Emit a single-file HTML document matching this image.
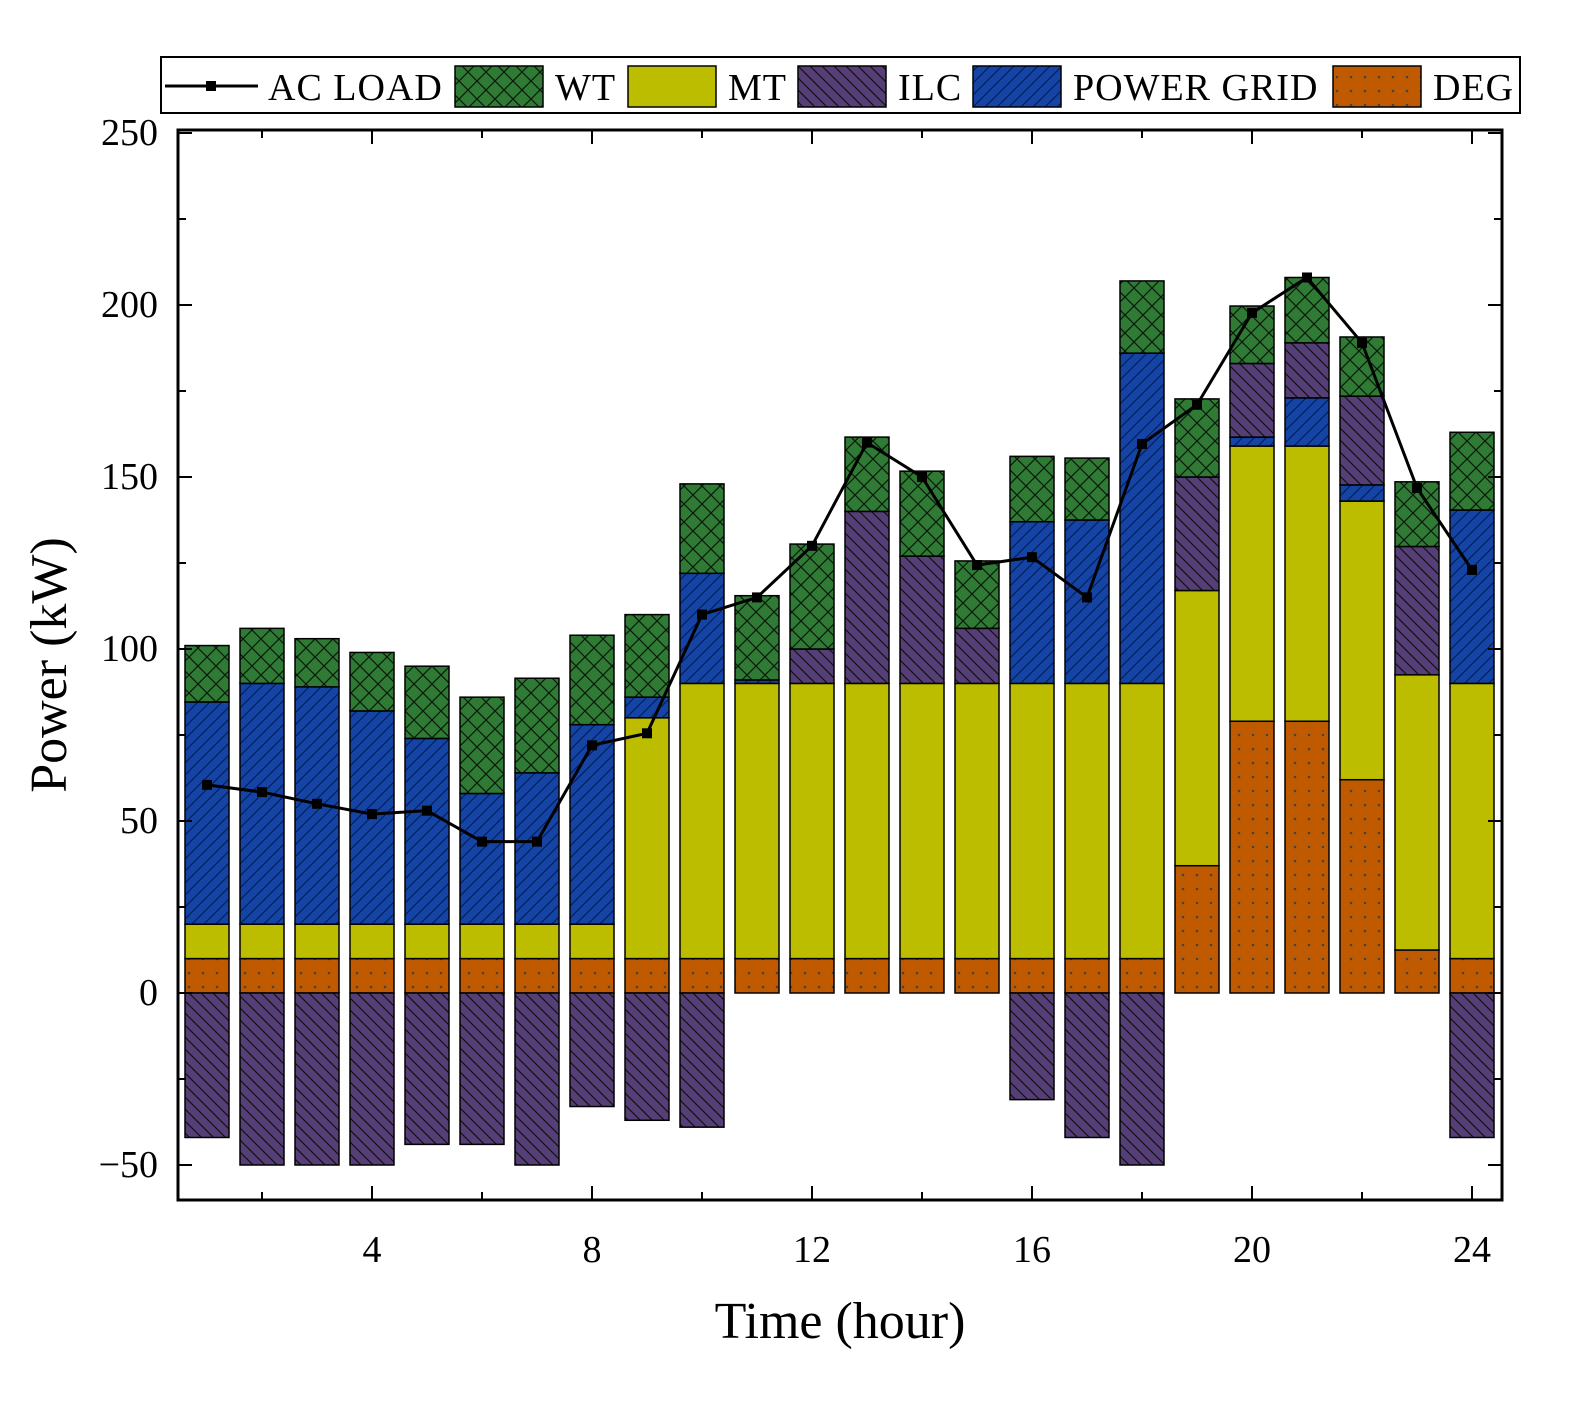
<!DOCTYPE html>
<html><head><meta charset="utf-8"><style>
body{margin:0;background:#fff;}
svg text{font-family:"Liberation Serif","DejaVu Serif",serif;fill:#000;}
</style></head><body>
<svg id="chart" width="1582" height="1400" xmlns="http://www.w3.org/2000/svg">
<defs>
<pattern id="pWT" width="18" height="18" patternUnits="userSpaceOnUse"><rect width="18" height="18" fill="#2f7a34"/><path d="M0,0L18,18M18,0L0,18" stroke="#000" stroke-width="1.2" opacity="0.8"/></pattern>
<pattern id="pMT" width="10" height="10" patternUnits="userSpaceOnUse"><rect width="10" height="10" fill="#bdbd00"/></pattern>
<pattern id="pILC" width="12" height="12" patternUnits="userSpaceOnUse"><rect width="12" height="12" fill="#563f78"/><path d="M0,0L12,12M-6,6L6,18M6,-6L18,6" stroke="#111" stroke-width="1.2"/></pattern>
<pattern id="pGRID" width="12" height="12" patternUnits="userSpaceOnUse"><rect width="12" height="12" fill="#1444a6"/><path d="M0,12L12,0M-6,6L6,-6M6,18L18,6" stroke="#0a1e50" stroke-width="1.2"/></pattern>
<pattern id="pDEG" width="14" height="14" patternUnits="userSpaceOnUse"><rect width="14" height="14" fill="#c05a00"/><circle cx="7" cy="7" r="1.3" fill="#444"/></pattern>
</defs>
<g id="plot"></g>
</svg>
<script>
const hours=[1,2,3,4,5,6,7,8,9,10,11,12,13,14,15,16,17,18,19,20,21,22,23,24];
const deg=[10,10,10,10,10,10,10,10,10,10,10,10,10,10,10,10,10,10,37,79,79,62,12.5,10];
const mt=[10,10,10,10,10,10,10,10,70,80,80,80,80,80,80,80,80,80,80,80,80,81,80,80];
const grid=[64.6,70,69,62,54,38,44,58,6,32,1,0,0,0,0,47,47.5,96,0,2.6,14,4.7,0,50.4];
const ilcPos=[0,0,0,0,0,0,0,0,0,0,0,10,50,37,16,0,0,0,33,21.4,16,25.8,37.3,0];
const wt=[16.4,16,14,17,21,28,27.5,26,24,26,24.5,30.5,21.6,24.7,19.6,19,18,21,22.7,16.7,19,17.2,18.8,22.6];
const ilcNeg=[-42,-50,-50,-50,-44,-44,-50,-33,-37,-39,0,0,0,0,0,-31,-42,-50,0,0,0,0,0,-42];
const load=[60.5,58.4,55,52,53,44,44,72,75.5,110,115,130,160,150,124.4,126.7,115,159.6,171,197.7,208,189,146.8,123];
const xTicks=[4,8,12,16,20,24];
const yTicks=[-50,0,50,100,150,200,250];

const NS="http://www.w3.org/2000/svg";
const X0=178,X1=1502,Y0=130,Y1=1200;
const x=v=>152+55*v;
const y=v=>993-3.44*v;
const g=document.getElementById('plot');
function el(t,a,p){const e=document.createElementNS(NS,t);for(const k in a)e.setAttribute(k,a[k]);(p||g).appendChild(e);return e;}
const BW=44;
const series=[["deg",deg,"pDEG"],["mt",mt,"pMT"],["grid",grid,"pGRID"],["ilc",ilcPos,"pILC"],["wt",wt,"pWT"]];
hours.forEach((h,i)=>{
  let base=0;
  series.forEach(([nm,arr,pat])=>{
    const v=arr[i]; if(v<=0)return;
    const r=el('rect',{x:x(h)-BW/2,y:y(base+v),width:BW,height:y(base)-y(base+v),fill:'url(#'+pat+')',stroke:'#000','stroke-width':1.5});
    
    
    base+=v;
  });
  if(ilcNeg[i]<0){
    const r=el('rect',{x:x(h)-BW/2,y:y(0),width:BW,height:y(ilcNeg[i])-y(0),fill:'url(#pILC)',stroke:'#000','stroke-width':1.5});
    
    
  }
});
const pl=el('polyline',{points:hours.map((h,i)=>x(h)+','+y(load[i])).join(' '),fill:'none',stroke:'#000','stroke-width':3});


hours.forEach((h,i)=>{
  const m=el('rect',{x:x(h)-5,y:y(load[i])-5,width:10,height:10,fill:'#000'});
  
  
});
const fr=el('rect',{x:X0,y:Y0,width:X1-X0,height:Y1-Y0,fill:'none',stroke:'#000','stroke-width':3});


for(let v=2;v<=24;v+=2){const maj=v%4==0;const L=maj?14:8;
  el('line',{x1:x(v),x2:x(v),y1:Y1,y2:Y1-L,stroke:'#000','stroke-width':2});
  el('line',{x1:x(v),x2:x(v),y1:Y0,y2:Y0+L,stroke:'#000','stroke-width':2});}
for(let v=-50;v<=250;v+=25){const maj=v%50==0;const L=maj?14:8;
  el('line',{x1:X0,x2:X0+L,y1:y(v),y2:y(v),stroke:'#000','stroke-width':2});
  el('line',{x1:X1,x2:X1-L,y1:y(v),y2:y(v),stroke:'#000','stroke-width':2});}
xTicks.forEach(v=>{const t=el('text',{x:x(v),y:1262,'font-size':38,'text-anchor':'middle'});t.textContent=v;
  });
yTicks.forEach(v=>{const t=el('text',{x:158,y:y(v)+12,'font-size':38,'text-anchor':'end'});t.textContent=v<0?'\u2212'+(-v):v;
  });
const xt=el('text',{x:840,y:1338,'font-size':52,'text-anchor':'middle'});xt.textContent='Time (hour)';

const yt=el('text',{x:0,y:0,'font-size':52,'text-anchor':'middle',transform:'translate(66,665) rotate(-90)'});yt.textContent='Power (kW)';

const lg=el('g',{});


el('rect',{x:161,y:57,width:1359,height:56,fill:'#fff',stroke:'#000','stroke-width':2},lg);
el('line',{x1:165,x2:258,y1:86,y2:86,stroke:'#000','stroke-width':3},lg);
el('rect',{x:206,y:81,width:10,height:10,fill:'#000'},lg);
const legItems=[["AC LOAD",null,268],["WT","pWT",455],["MT","pMT",628],["ILC","pILC",798],["POWER GRID","pGRID",973],["DEG","pDEG",1333]];
legItems.forEach(([lab,pat,lx])=>{
  let tx=lx;
  if(pat){el('rect',{x:lx,y:66,width:88,height:41,fill:'url(#'+pat+')',stroke:'#000','stroke-width':1.5},lg);tx=lx+100;}
  const t=el('text',{x:tx,y:100,'font-size':38,'letter-spacing':1},lg);t.textContent=lab;
  
});
</script>
</body></html>
